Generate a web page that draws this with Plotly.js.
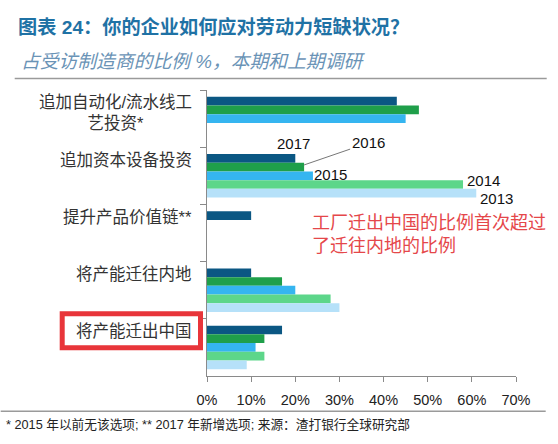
<!DOCTYPE html>
<html>
<head>
<meta charset="utf-8">
<script src="https://cdn.plot.ly/plotly-3.0.1.min.js"></script>
<style>
html,body{margin:0;padding:0;background:#fff;}
#chart{width:558px;height:444px;}
</style>
</head>
<body>
<div id="chart"></div>
<script>
// ---- data ----
const categories = ['追加自动化/流水线工艺投资*', '追加资本设备投资', '提升产品价值链**', '将产能迁往内地', '将产能迁出中国'];
const categoryLabels = ['追加自动化/流水线工<br>艺投资*', '追加资本设备投资', '提升产品价值链**', '将产能迁往内地', '将产能迁出中国'];
const years = ['2017', '2016', '2015', '2014', '2013'];
const v2017 = [43, 20, 10, 10, 17];
const v2016 = [48, 22, null, 17, 13];
const v2015 = [45, 24, null, 20, 11];
const v2014 = [null, 58, null, 28, 13];
const v2013 = [null, 61, null, 30, 9];
const seriesValues = [v2017, v2016, v2015, v2014, v2013];
const xTickValues = [0, 10, 20, 30, 40, 50, 60, 70];
const xTickLabels = ['0%', '10%', '20%', '30%', '40%', '50%', '60%', '70%'];
const titleText = '图表 24：你的企业如何应对劳动力短缺状况？';
const subtitleText = '占受访制造商的比例 %，本期和上期调研';
const noteText = '工厂迁出中国的比例首次超过<br>了迁往内地的比例';
const footText = '* 2015 年以前无该选项; ** 2017 年新增选项; 来源：渣打银行全球研究部';

// ---- styles ----
const colors = ['#0b5783', '#1f9f4a', '#35b5f0', '#5dd68a', '#b6e1f9'];
const FONT = 'Liberation Sans, Arial, Noto Sans CJK SC, sans-serif';
const CJK = 'Liberation Sans, Noto Sans CJK SC, sans-serif';

const traces = years.map((yr, i) => ({
  type: 'bar',
  orientation: 'h',
  name: yr,
  y: categories,
  x: seriesValues[i],
  marker: {color: colors[i], line: {width: 0}},
  hoverinfo: 'skip'
}));

const annotations = [];
// category labels
categoryLabels.forEach((lab, i) => {
  const multi = lab.indexOf('<br>') >= 0;
  annotations.push({
    xref: 'paper', yref: 'y', x: 0, y: categories[i],
    xanchor: 'right', yanchor: 'middle', align: 'center',
    xshift: -13, yshift: multi ? 6 : 16,
    text: lab, showarrow: false,
    font: {family: CJK, size: 16.5, color: '#333333'}
  });
});
// year labels
const yearFont = {family: FONT, size: 15, color: '#111111'};
annotations.push({xref: 'x', yref: 'y', x: 19.6, y: 0.43, text: years[0], showarrow: false, font: yearFont});
annotations.push({xref: 'x', yref: 'y', x: v2016[1], y: 0.81, text: years[1], showarrow: true,
  arrowhead: 0, arrowwidth: 1, arrowcolor: '#777777', ax: 64, ay: -22, standoff: 0, font: yearFont});
annotations.push({xref: 'x', yref: 'y', x: 27.9, y: 0.97, text: years[2], showarrow: false, font: yearFont});
annotations.push({xref: 'x', yref: 'y', x: 62.7, y: 1.085, text: years[3], showarrow: false, font: yearFont});
annotations.push({xref: 'x', yref: 'y', x: 65.6, y: 1.39, text: years[4], showarrow: false, font: yearFont});
// red note
annotations.push({xref: 'x', yref: 'y', x: 23.3, y: 2.03, xanchor: 'left', yanchor: 'middle', align: 'left',
  text: noteText, showarrow: false, font: {family: CJK, size: 18, color: '#e5474a'}});
// subtitle
annotations.push({xref: 'paper', yref: 'paper', x: (19 - 207.3) / 309, y: (375.7 - 62) / 285.7,
  xanchor: 'left', yanchor: 'middle', text: '<i>' + subtitleText + '</i>', showarrow: false,
  font: {family: CJK, size: 18.8, color: '#6a93b6'}});
// footnote
annotations.push({xref: 'paper', yref: 'paper', x: (4 - 207.3) / 309, y: (375.7 - 424) / 285.7,
  xanchor: 'left', yanchor: 'middle', text: footText, showarrow: false,
  font: {family: CJK, size: 12.7, color: '#222222'}});

const shapes = [
  {type: 'line', xref: 'paper', yref: 'paper', x0: (15 - 207.3) / 309, x1: (547 - 207.3) / 309,
   y0: (375.7 - 78.5) / 285.7, y1: (375.7 - 78.5) / 285.7, line: {color: '#9a9a9a', width: 1.5}},
  {type: 'line', xref: 'paper', yref: 'paper', x0: (1 - 207.3) / 309, x1: (546 - 207.3) / 309,
   y0: (375.7 - 411) / 285.7, y1: (375.7 - 411) / 285.7, line: {color: '#9a9a9a', width: 1.5}},
  {type: 'rect', xref: 'paper', yref: 'paper', x0: (62.5 - 207.3) / 309, x1: (200.8 - 207.3) / 309,
   y0: (375.7 - 347.5) / 285.7, y1: (375.7 - 313.5) / 285.7, line: {color: '#e8353a', width: 5}}
];

const layout = {
  width: 558, height: 444,
  margin: {l: 207.3, r: 42, t: 90, b: 68.3, pad: 0},
  paper_bgcolor: '#ffffff', plot_bgcolor: '#ffffff',
  showlegend: false,
  barmode: 'group', bargap: 0.24, bargroupgap: 0,
  title: {text: '<b>' + titleText + '</b>', xref: 'container', yref: 'container',
    x: 18 / 558, xanchor: 'left', y: 1 - 27.5 / 444, yanchor: 'middle',
    font: {family: CJK, size: 19.2, color: '#1f72a5'}},
  xaxis: {range: [0, 70], tickmode: 'array', tickvals: xTickValues, ticktext: xTickLabels,
    showgrid: false, zeroline: false,
    showline: true, linecolor: '#8a8a8a', linewidth: 1, ticks: 'outside', ticklen: 5, tickcolor: '#8a8a8a',
    ticklabelstandoff: 6,
    tickfont: {family: FONT, size: 14.5, color: '#222222'}, fixedrange: true},
  yaxis: {type: 'category', categoryorder: 'array', categoryarray: categories, autorange: 'reversed',
    showticklabels: false, showgrid: false, zeroline: false, showline: true, linecolor: '#8a8a8a', linewidth: 1,
    ticks: 'outside', tickson: 'boundaries', ticklen: 6, tickcolor: '#8a8a8a', fixedrange: true},
  annotations: annotations,
  shapes: shapes
};

Plotly.newPlot('chart', traces, layout, {staticPlot: true, displayModeBar: false});
</script>
</body>
</html>
